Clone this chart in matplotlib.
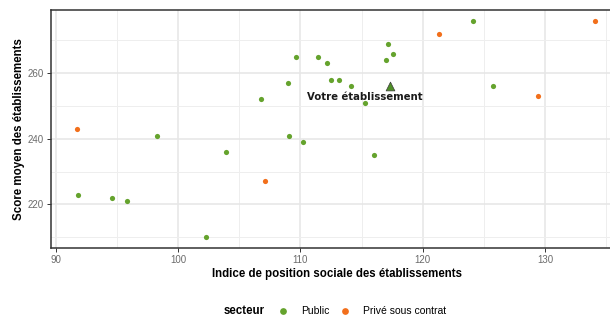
import numpy as np
import matplotlib.pyplot as plt
from matplotlib.ticker import MultipleLocator

# données
pub_x = [91.8, 94.6, 95.8, 98.3, 102.3, 103.9, 106.8, 109.0, 109.05, 109.65, 110.2,
         111.45, 112.2, 112.5, 113.15, 114.15, 115.3, 116.05, 117.0, 117.2, 117.55,
         124.1, 125.75]
pub_y = [223, 222, 221, 241, 210, 236, 252, 257, 241, 265, 239,
         265, 263, 258, 258, 256, 251, 235, 264, 269, 266,
         276, 256]
prive_x = [91.7, 107.1, 121.3, 129.4, 134.1]
prive_y = [243, 227, 272, 253, 276]
etab_x = 117.3
etab_y = 256
etab_label = 'Votre établissement'

vert = '#65a32d'
orange = '#f26f1b'
arial = 'Liberation Sans'

fig = plt.figure(figsize=(6.1, 3.18), dpi=100)
ax = fig.add_axes([51/610, 70/318, 571/610, 238/318])

ax.scatter(pub_x, pub_y, s=14, color=vert, lw=0, zorder=3, label='Public')
ax.scatter(prive_x, prive_y, s=14, color=orange, lw=0, zorder=3, label='Privé sous contrat')
ax.scatter([etab_x], [etab_y], marker='^', s=40, color='#4f8f27', edgecolor='#3a3a3a',
           lw=0.5, zorder=4)
ax.text(115.3, 252.9, etab_label, ha='center', va='center', fontsize=7.3,
        fontweight='bold', color='#1a1a1a', zorder=5)

ax.set_xlim(89.6, 136.3)
ax.set_ylim(206.7, 279.3)
ax.xaxis.set_major_locator(MultipleLocator(10))
ax.xaxis.set_minor_locator(MultipleLocator(5))
ax.yaxis.set_major_locator(MultipleLocator(20))
ax.yaxis.set_minor_locator(MultipleLocator(10))
ax.grid(which='major', color='#e6e6e6', lw=1.1)
ax.grid(which='minor', color='#eeeeee', lw=0.7)
ax.set_axisbelow(True)
ax.tick_params(which='major', length=3, width=0.7, color='#333333', labelsize=7,
               labelcolor='#6b6b6b', pad=2)
ax.tick_params(which='minor', length=0)
for lab in ax.get_xticklabels() + ax.get_yticklabels():
    lab.set_fontfamily(arial)
for s in ax.spines.values():
    s.set_color('#333333')
    s.set_linewidth(1.1)

ax.set_xlabel('Indice de position sociale des établissements', fontsize=8.3,
              fontweight='bold', fontfamily=arial, labelpad=2)
ax.set_ylabel('Score moyen des établissements', fontsize=8.3, fontweight='bold',
              fontfamily=arial, labelpad=2)
ax.xaxis.label.set_x((337 - 51) / 571)

fig.text(224/610, 1 - 311/318, 'secteur', fontsize=8.3, fontweight='bold',
         fontfamily=arial, va='center')
fig.legend(loc='center left', bbox_to_anchor=(278/610, 1 - 311/318), ncol=2, frameon=False,
           prop={'family': arial, 'size': 7.5}, handletextpad=1.2, columnspacing=1.0,
           markerscale=1.3, borderaxespad=0, borderpad=0, handlelength=1.0)

fig.savefig('out.png', dpi=100)
